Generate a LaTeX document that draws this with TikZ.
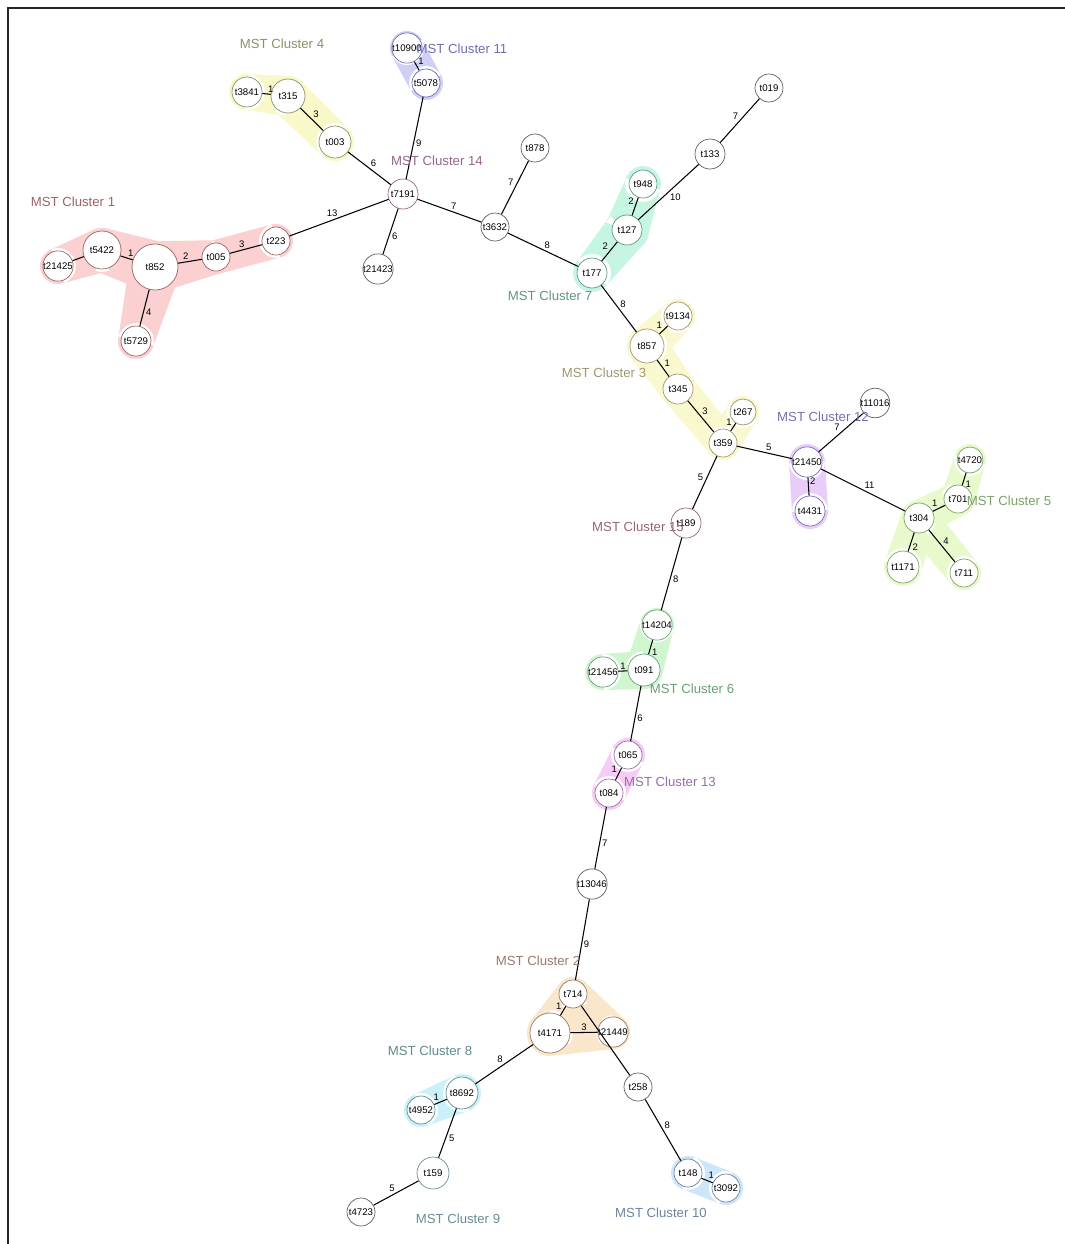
\documentclass[tikz,border=0pt]{standalone}
\usepackage{fontspec}
\setmainfont{Liberation Sans}
\usetikzlibrary{calc,backgrounds}

\definecolor{nodegray}{RGB}{95,95,95}
% hull fills
\definecolor{fillA}{RGB}{250,208,208}
\definecolor{fillB}{RGB}{250,230,202}
\definecolor{fillC}{RGB}{250,248,206}
\definecolor{fillD}{RGB}{248,248,200}
\definecolor{fillE}{RGB}{232,250,204}
\definecolor{fillF}{RGB}{208,246,208}
\definecolor{fillG}{RGB}{198,245,226}
\definecolor{fillH}{RGB}{202,240,250}
\definecolor{fillJ}{RGB}{204,230,250}
\definecolor{fillK}{RGB}{208,208,246}
\definecolor{fillL}{RGB}{232,204,250}
\definecolor{fillM}{RGB}{246,204,246}
% label and outline colours
\definecolor{txtA}{RGB}{155,100,100}
\definecolor{txtB}{RGB}{150,122,110}
\definecolor{txtC}{RGB}{160,150,110}
\definecolor{txtD}{RGB}{140,145,105}
\definecolor{txtE}{RGB}{125,160,105}
\definecolor{txtF}{RGB}{105,160,120}
\definecolor{txtG}{RGB}{95,150,130}
\definecolor{txtH}{RGB}{95,140,140}
\definecolor{txtI}{RGB}{105,140,150}
\definecolor{txtJ}{RGB}{110,130,160}
\definecolor{txtK}{RGB}{110,110,175}
\definecolor{txtL}{RGB}{120,110,175}
\definecolor{txtM}{RGB}{150,110,165}
\definecolor{txtN}{RGB}{150,100,140}
\definecolor{txtO}{RGB}{150,100,120}

\newcommand{\hullseg}[5]{%
  \fill[#1] ($(#2)!#4!90:(#3)$) -- ($(#3)!#5!-90:(#2)$) -- ($(#3)!#5!90:(#2)$)
    -- ($(#2)!#4!-90:(#3)$) -- cycle ($(#2)$) circle[radius=#4] ($(#3)$) circle[radius=#5];}

\tikzset{
  mst/.style={circle, draw=#1, fill=white, inner sep=0pt, minimum size=5.6mm,
    line width=0.4pt, font=\fontsize{5.5}{6}\selectfont},
  mst/.default=nodegray,
  cluster/.style={text=#1, font=\fontsize{7.5}{9}\selectfont, inner sep=0pt},
  mstedge/.style={draw=black, line width=0.6pt,
    every node/.style={font=\fontsize{5.4}{6}\selectfont, inner sep=0.6pt}},
}

\begin{document}
\begin{tikzpicture}[x=0.2mm, y=-0.2mm, auto]

	\useasboundingbox (0,0) rectangle (1065,1244);

	% cluster 1 and 4
	\node (t3841) [mst=txtD, minimum size=6mm] at (247, 92) {t3841};
	\node (t315) [mst=txtD, minimum size=6.8mm] at (288, 96) {t315};
	\node (t003) [mst=txtD, minimum size=6.4mm] at (335, 142) {t003};
	\node (t223) [mst=txtA] at (276, 241) {t223};
	\node (t005) [mst=txtA] at (216, 257) {t005};
	\node (t852) [mst=txtA, minimum size=9.2mm] at (155, 267) {t852};
	\node (t5422) [mst=txtA, minimum size=7.6mm] at (102, 250) {t5422};
	\node (t21425) [mst=txtA, minimum size=6mm] at (58, 266) {t21425};
	\node (t5729) [mst=txtA, minimum size=6mm] at (136, 341) {t5729};

	% top middle
	\node (t10900) [mst=txtK] at (407, 48) {t10900};
	\node (t5078) [mst=txtK] at (426, 83) {t5078};
	\node (t7191) [mst=txtN, minimum size=6mm] at (403, 194) {t7191};
	\node (t21423) [mst] at (378, 269) {t21423};
	\node (t3632) [mst] at (495, 227) {t3632};
	\node (t878) [mst] at (535, 148) {t878};
	\node (t019) [mst] at (769, 88) {t019};
	\node (t133) [mst, minimum size=6mm] at (710, 154) {t133};
	\node (t948) [mst=txtG] at (643, 184) {t948};
	\node (t127) [mst=txtG, minimum size=6mm] at (627, 230) {t127};
	\node (t177) [mst=txtG, minimum size=6mm] at (592, 273) {t177};

	% cluster 3, 12, 5
	\node (t9134) [mst=txtC] at (678, 316) {t9134};
	\node (t857) [mst=txtC, minimum size=6.8mm] at (647, 346) {t857};
	\node (t345) [mst=txtC, minimum size=6mm] at (678, 389) {t345};
	\node (t267) [mst=txtC, minimum size=5.2mm] at (743, 412) {t267};
	\node (t359) [mst=txtC] at (723, 443) {t359};
	\node (t11016) [mst] at (875, 403) {t11016};
	\node (t21450) [mst=txtL, minimum size=6mm] at (807, 462) {t21450};
	\node (t4431) [mst=txtL, minimum size=6mm] at (810, 511) {t4431};
	\node (t4720) [mst=txtE, minimum size=5.2mm] at (970, 460) {t4720};
	\node (t701) [mst=txtE] at (958, 499) {t701};
	\node (t304) [mst=txtE, minimum size=6mm] at (919, 518) {t304};
	\node (t1171) [mst=txtE, minimum size=6.4mm] at (903, 567) {t1171};
	\node (t711) [mst=txtE] at (964, 573) {t711};

	% the long chain down
	\node (t189) [mst=txtO, minimum size=6mm] at (686, 523) {t189};
	\node (t14204) [mst=txtF] at (657, 625) {t14204};
	\node (t091) [mst=txtF, minimum size=6.4mm] at (644, 670) {t091};
	\node (t21456) [mst=txtF, minimum size=6mm] at (603, 672) {t21456};
	\node (t065) [mst=txtM] at (628, 755) {t065};
	\node (t084) [mst=txtM] at (609, 793) {t084};
	\node (t13046) [mst] at (592, 884) {t13046};
	\node (t714) [mst=txtB] at (573, 994) {t714};
	\node (t4171) [mst=txtB, minimum size=8mm] at (550, 1033) {t4171};
	\node (t21449) [mst=txtB] at (613, 1032) {t21449};
	\node (t258) [mst] at (638, 1087) {t258};
	\node (t148) [mst=txtJ] at (688, 1173) {t148};
	\node (t3092) [mst=txtJ] at (726, 1188) {t3092};
	\node (t8692) [mst=txtH, minimum size=6.4mm] at (462, 1093) {t8692};
	\node (t4952) [mst=txtH] at (421, 1110) {t4952};
	\node (t159) [mst=txtI, minimum size=6.4mm] at (433, 1173) {t159};
	\node (t4723) [mst] at (361, 1212) {t4723};

	\path[mstedge]
	(t3841) edge node {1} (t315)
	(t315) edge node {3} (t003)
	(t003) edge node {6} (t7191)
	(t10900) edge node {1} (t5078)
	(t5078) edge node {9} (t7191)
	(t223) edge node {13} (t7191)
	(t7191) edge node {6} (t21423)
	(t7191) edge node {7} (t3632)
	(t3632) edge node {7} (t878)
	(t3632) edge node {8} (t177)
	(t177) edge node {2} (t127)
	(t127) edge node {2} (t948)
	(t127) edge node[swap] {10} (t133)
	(t133) edge node {7} (t019)
	(t177) edge node {8} (t857)
	(t857) edge node {1} (t9134)
	(t857) edge node {1} (t345)
	(t345) edge node {3} (t359)
	(t359) edge node {1} (t267)
	(t359) edge node {5} (t21450)
	(t21450) edge node {7} (t11016)
	(t21450) edge node {2} (t4431)
	(t21450) edge node {11} (t304)
	(t304) edge node {1} (t701)
	(t701) edge node[swap] {1} (t4720)
	(t304) edge node {2} (t1171)
	(t304) edge node {4} (t711)
	(t21425) edge (t5422)
	(t5422) edge node {1} (t852)
	(t852) edge node {2} (t005)
	(t005) edge node {3} (t223)
	(t852) edge node {4} (t5729)
	(t359) edge node[swap] {5} (t189)
	(t189) edge node {8} (t14204)
	(t14204) edge node {1} (t091)
	(t091) edge node[swap] {1} (t21456)
	(t091) edge node {6} (t065)
	(t065) edge node[swap] {1} (t084)
	(t084) edge node {7} (t13046)
	(t13046) edge node {9} (t714)
	(t714) edge node[swap] {1} (t4171)
	(t4171) edge node {3} (t21449)
	(t714) edge (t258)
	(t4171) edge node[swap] {8} (t8692)
	(t8692) edge node[swap] {1} (t4952)
	(t8692) edge node {5} (t159)
	(t159) edge node[swap] {5} (t4723)
	(t258) edge node {8} (t148)
	(t148) edge node {1} (t3092);

	% shaded clusters
	\begin{pgfonlayer}{background}
		\hullseg{fillA}{t21425}{t5422}{3.6mm}{4.4mm}
		\hullseg{fillA}{t5422}{t852}{4.4mm}{5.2mm}
		\hullseg{fillA}{t852}{t005}{5.2mm}{3.4mm}
		\hullseg{fillA}{t005}{t223}{3.4mm}{3.4mm}
		\hullseg{fillA}{t852}{t5729}{5.2mm}{3.6mm}
		\hullseg{fillD}{t3841}{t315}{3.6mm}{4mm}
		\hullseg{fillD}{t315}{t003}{4mm}{3.8mm}
		\hullseg{fillK}{t10900}{t5078}{3.4mm}{3.4mm}
		\hullseg{fillG}{t177}{t127}{3.8mm}{4.4mm}
		\hullseg{fillG}{t127}{t948}{4.4mm}{3.6mm}
		\hullseg{fillC}{t9134}{t857}{3.4mm}{4mm}
		\hullseg{fillC}{t857}{t345}{4mm}{3.6mm}
		\hullseg{fillC}{t345}{t359}{3.6mm}{3.4mm}
		\hullseg{fillC}{t359}{t267}{3.4mm}{3.2mm}
		\hullseg{fillL}{t21450}{t4431}{3.6mm}{3.6mm}
		\hullseg{fillE}{t4720}{t701}{3.2mm}{3.4mm}
		\hullseg{fillE}{t701}{t304}{3.4mm}{3.6mm}
		\hullseg{fillE}{t304}{t1171}{3.6mm}{3.8mm}
		\hullseg{fillE}{t304}{t711}{3.6mm}{3.4mm}
		\hullseg{fillF}{t14204}{t091}{3.4mm}{3.8mm}
		\hullseg{fillF}{t091}{t21456}{3.8mm}{3.6mm}
		\hullseg{fillM}{t065}{t084}{3.4mm}{3.4mm}
		\hullseg{fillB}{t714}{t4171}{3.4mm}{4.6mm}
		\hullseg{fillB}{t4171}{t21449}{4.6mm}{3.4mm}
		\hullseg{fillB}{t714}{t21449}{3.4mm}{3.4mm}
		\fill[fillB] (t714.center) -- (t4171.center) -- (t21449.center) -- cycle;
		\hullseg{fillH}{t8692}{t4952}{3.8mm}{3.4mm}
		\hullseg{fillJ}{t148}{t3092}{3.4mm}{3.4mm}
	\end{pgfonlayer}

	% cluster names
	\node (lab1) [cluster=txtA] at (73, 202) {MST Cluster 1};
	\node (lab2) [cluster=txtB] at (538, 961) {MST Cluster 2};
	\node (lab3) [cluster=txtC] at (604, 373) {MST Cluster 3};
	\node (lab4) [cluster=txtD] at (282, 44) {MST Cluster 4};
	\node (lab5) [cluster=txtE] at (1009, 501) {MST Cluster 5};
	\node (lab6) [cluster=txtF] at (692, 689) {MST Cluster 6};
	\node (lab7) [cluster=txtG] at (550, 296) {MST Cluster 7};
	\node (lab8) [cluster=txtH] at (430, 1051) {MST Cluster 8};
	\node (lab9) [cluster=txtI] at (458, 1219) {MST Cluster 9};
	\node (lab10) [cluster=txtJ] at (661, 1213) {MST Cluster 10};
	\node (lab11) [cluster=txtK] at (462, 49) {MST Cluster 11};
	\node (lab12) [cluster=txtL] at (823, 417) {MST Cluster 12};
	\node (lab13) [cluster=txtM] at (670, 782) {MST Cluster 13};
	\node (lab14) [cluster=txtN] at (437, 161) {MST Cluster 14};
	\node (lab15) [cluster=txtO] at (638, 527) {MST Cluster 15};

	% frame
	\draw[line width=1.2pt, black!85] (8, 1244) -- (8, 8) -- (1065, 8);

\end{tikzpicture}
\end{document}
